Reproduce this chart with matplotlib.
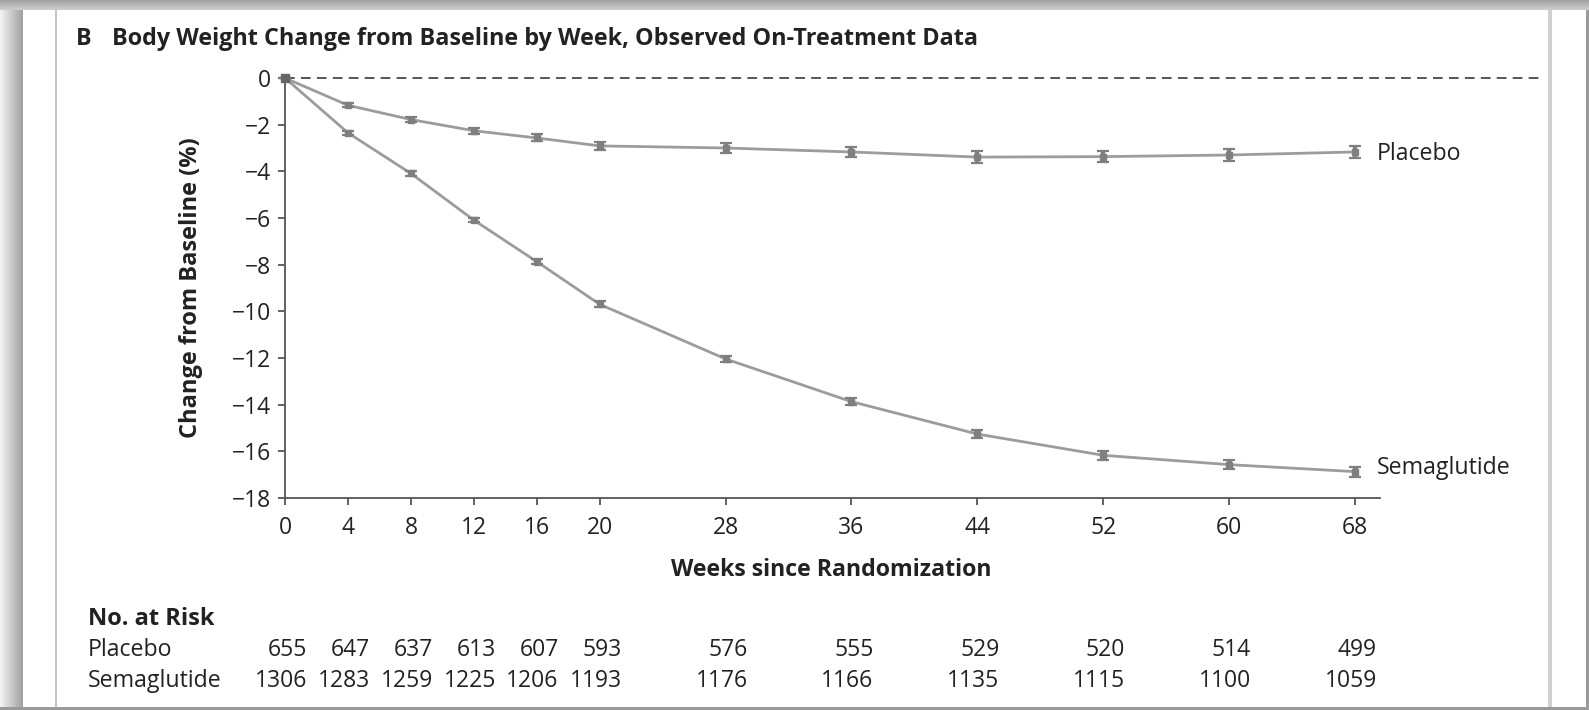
import matplotlib
matplotlib.use("Agg")
import matplotlib.pyplot as plt
from matplotlib.patches import Rectangle
from matplotlib import transforms
import numpy as np

# ---------------- data ----------------
weeks = [0, 4, 8, 12, 16, 20, 28, 36, 44, 52, 60, 68]
placebo = [0, -1.17, -1.78, -2.26, -2.57, -2.91, -3.0, -3.17, -3.39, -3.37, -3.3, -3.17]
placebo_ci = [0, 0.08, 0.1, 0.12, 0.15, 0.18, 0.2, 0.22, 0.25, 0.25, 0.27, 0.27]
sema = [0, -2.35, -4.09, -6.09, -7.87, -9.7, -12.04, -13.87, -15.26, -16.17, -16.57, -16.87]
sema_ci = [0, 0.1, 0.1, 0.1, 0.12, 0.13, 0.14, 0.16, 0.18, 0.19, 0.2, 0.22]
yticks = [0, -2, -4, -6, -8, -10, -12, -14, -16, -18]
risk_placebo = [655, 647, 637, 613, 607, 593, 576, 555, 529, 520, 514, 499]
risk_sema = [1306, 1283, 1259, 1225, 1206, 1193, 1176, 1166, 1135, 1115, 1100, 1059]

W, H = 1589, 710
plt.rcParams['font.family'] = ['Open Sans', 'DejaVu Sans']
TXT = '#222222'
FS = 16.7
fig = plt.figure(figsize=(W / 100, H / 100), dpi=100)
fig.patch.set_facecolor('white')

def fx(px):
    return px / W

def fy(py):
    return 1 - py / H

# ---------------- frame ----------------
n = 23
for i in range(n):
    g = 0.95 - 0.32 * (i / (n - 1))
    fig.add_artist(Rectangle((fx(i), 0), fx(1.05), 1, transform=fig.transFigure,
                             color=(g, g, g), lw=0, zorder=0))
for j in range(10):
    g = 0.64 + 0.16 * (j / 9)
    fig.add_artist(Rectangle((0, fy(j + 1)), 1, 1.05 / H, transform=fig.transFigure,
                             color=(g, g, g), lw=0, zorder=0))
fig.add_artist(Rectangle((fx(55), 0), fx(2), fy(10), transform=fig.transFigure,
                         color='#c4c4c4', lw=0, zorder=0))
fig.add_artist(Rectangle((fx(1548), 0), fx(4), fy(10), transform=fig.transFigure,
                         color='#cfcfcf', lw=0, zorder=0))
fig.add_artist(Rectangle((fx(1586), 0), fx(3), fy(10), transform=fig.transFigure,
                         color='#9a9a9a', lw=0, zorder=0))
fig.add_artist(Rectangle((0, 0), 1, 3 / H, transform=fig.transFigure,
                         color='#9a9a9a', lw=0, zorder=0))

# ---------------- axes ----------------
x0_px, y0_px, ytop_px = 285, 498, 78
px_per_week = (1355 - 285) / 68
xmax = 80
ax = fig.add_axes([fx(x0_px), fy(y0_px), fx(xmax * px_per_week), (y0_px - ytop_px) / H])
ax.set_xlim(0, xmax)
ax.set_ylim(-18, 0)
ax.patch.set_alpha(0)

for s in ['top', 'right']:
    ax.spines[s].set_visible(False)
for s in ['left', 'bottom']:
    ax.spines[s].set_color('#555555')
    ax.spines[s].set_linewidth(1.3)
ax.spines['bottom'].set_bounds(0, 69.6)

ax.set_xticks(weeks)
ax.set_xticklabels([str(w) for w in weeks])
ax.set_yticks(yticks)
ax.set_yticklabels([str(t).replace('-', '\u2212') for t in yticks])
ax.tick_params(axis='both', direction='out', length=5, width=1.3, color='#555555',
               labelsize=16.5, labelcolor=TXT)
ax.tick_params(axis='y', pad=5)
ax.tick_params(axis='x', pad=8)

ax.plot([0, xmax], [0, 0], ls=(0, (5, 3.2)), color='#555555', lw=1.4, clip_on=False, zorder=2)

line_col = '#9c9c9c'
err_col = '#7f7f7f'
ax.plot(weeks, placebo, color=line_col, lw=2, clip_on=False, zorder=3)
ax.plot(weeks, sema, color=line_col, lw=2, clip_on=False, zorder=3)
ax.errorbar(weeks, placebo, yerr=placebo_ci, fmt='none', ecolor=err_col, elinewidth=3.2,
            capsize=4.5, capthick=1.6, clip_on=False, zorder=4)
ax.errorbar(weeks, sema, yerr=sema_ci, fmt='none', ecolor=err_col, elinewidth=3.8,
            capsize=4.5, capthick=1.6, clip_on=False, zorder=4)
ax.plot(weeks, placebo, ls='none', marker='s', ms=4, color=err_col, clip_on=False, zorder=5)
ax.plot(weeks, sema, ls='none', marker='s', ms=5, color=err_col, clip_on=False, zorder=5)
ax.plot([0], [0], ls='none', marker='s', ms=6, color='#666666', clip_on=False, zorder=6)

ax.text(69.4, placebo[-1] - 0.1, 'Placebo', fontsize=FS, color=TXT, va='center', ha='left')
ax.text(69.4, sema[-1] + 0.15, 'Semaglutide', fontsize=FS, color=TXT, va='center', ha='left')

ax.set_ylabel('Change from Baseline (%)', fontsize=17, fontweight='bold', color=TXT)
ax.yaxis.set_label_coords(fx(203 - x0_px) / (xmax * px_per_week / W), 0.5)

# x label
bt = transforms.blended_transform_factory(ax.transData, fig.transFigure)
fig.text(34.7, fy(570), 'Weeks since Randomization', transform=bt, fontsize=FS,
         fontweight='bold', color=TXT, ha='center', va='center')

# ---------------- title ----------------
fig.text(fx(76), fy(39), 'B', fontsize=16.7, fontweight='bold', color=TXT, va='center', ha='left')
fig.text(fx(112), fy(39), 'Body Weight Change from Baseline by Week, Observed On-Treatment Data',
         fontsize=16.8, fontweight='bold', color=TXT, va='center', ha='left')

# ---------------- number at risk ----------------
fig.text(fx(88), fy(619), 'No. at Risk', fontsize=17, fontweight='bold', color=TXT,
         va='center', ha='left')
fig.text(fx(88), fy(650), 'Placebo', fontsize=FS, color=TXT, va='center', ha='left')
fig.text(fx(88), fy(681), 'Semaglutide', fontsize=FS, color=TXT, va='center', ha='left')
off = transforms.offset_copy(bt, fig=fig, x=22 / 100 * 72, y=0, units='points')
for w, p, s in zip(weeks, risk_placebo, risk_sema):
    fig.text(w, fy(650), str(p), transform=off, fontsize=16.5, color=TXT, ha='right', va='center')
    fig.text(w, fy(681), str(s), transform=off, fontsize=16.5, color=TXT, ha='right', va='center')

fig.savefig('out.png', dpi=100, facecolor='white')
